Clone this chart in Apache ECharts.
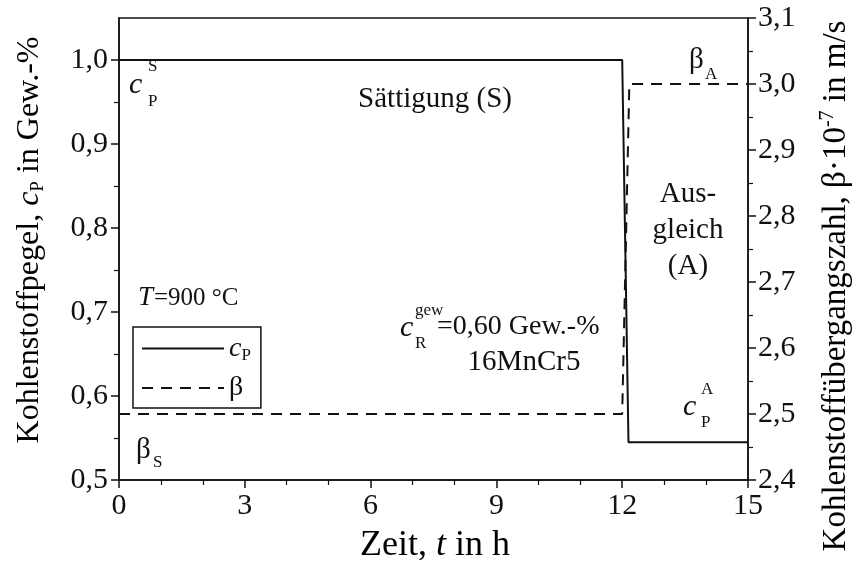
<!DOCTYPE html>
<html>
<head>
<meta charset="utf-8">
<script src="https://cdn.jsdelivr.net/npm/echarts@6/dist/echarts.min.js"></script>
<style>
  html, body { margin: 0; padding: 0; background: #fff; }
  #chart { width: 859px; height: 573px; }
</style>
</head>
<body>
<div id="chart"></div>
<script>
// Carbon potential c_P (left axis) and carbon transfer coefficient beta (right axis) over time
const cpTime = [0, 12.0, 12.15, 15];
const cpValue = [1.0, 1.0, 0.545, 0.545];
const betaTime = [0, 12.0, 12.17, 15];
const betaValue = [2.5, 2.5, 3.0, 3.0];

// axis ranges and tick values
const timeRange = [0, 15];
const cpRange = [0.5, 1.05];
const betaRange = [2.4, 3.1];
const cpMajorTicks = [0.5, 0.6, 0.7, 0.8, 0.9, 1.0];
const cpMinorTicks = [0.55, 0.65, 0.75, 0.85, 0.95];

const FONT = '"Liberation Serif", "Times New Roman", serif';
const INK = '#111';
const comma = v => (Math.round(v * 10) / 10).toFixed(1).replace('.', ',');

function rich(size) {
  const b = { fontFamily: FONT, color: INK };
  const s = Math.round(size * 0.6);
  const lh = Math.round(size * 1.2);
  return {
    r: { ...b, fontSize: size, lineHeight: lh },
    i: { ...b, fontSize: size, lineHeight: lh, fontStyle: 'italic' },
    sub: { ...b, fontSize: s, lineHeight: s + 2, padding: [Math.round(size * 0.5), 0, 0, 0] },
    sup: { ...b, fontSize: s, lineHeight: s + 2, padding: [0, 0, Math.round(size * 0.5), 0] }
  };
}

const chart = echarts.init(document.getElementById('chart'), null, { renderer: 'canvas' });

function txt(x, y, text, size, opts) {
  opts = opts || {};
  return {
    type: 'text', x: x, y: y, silent: true,
    style: {
      text: text, fontFamily: FONT, fontSize: size, fill: INK,
      fontStyle: opts.italic ? 'italic' : 'normal',
      align: opts.align || 'left', verticalAlign: 'middle'
    }
  };
}

function richTxt(x, y, text, size, rotation) {
  return {
    type: 'text', x: x, y: y, rotation: rotation || 0, silent: true,
    style: { text: text, rich: rich(size), align: 'center', verticalAlign: 'middle' }
  };
}

const axisLine = { show: true, lineStyle: { color: INK, width: 1.5 } };
const TICK = 30;

const option = {
  backgroundColor: '#fff',
  animation: false,
  grid: {
    left: 119, right: 111, top: 18, bottom: 93,
    outerBoundsMode: 'none', containLabel: false,
    show: true, borderColor: INK, borderWidth: 1.5, backgroundColor: 'transparent'
  },
  legend: {
    left: 133, top: 327, orient: 'vertical',
    itemWidth: 82, itemHeight: 14, itemGap: 10,
    padding: [6, 10, 6, 8],
    borderColor: INK, borderWidth: 1.5,
    itemStyle: { opacity: 0 },
    data: ['cP', 'beta'],
    formatter: name => name === 'cP' ? '{i|c}{sub|P}' : '{r|β}',
    textStyle: { rich: rich(28) }
  },
  xAxis: {
    type: 'value', min: timeRange[0], max: timeRange[1], interval: 3,
    axisLine: axisLine,
    axisTick: { show: true, length: 8, lineStyle: { color: INK, width: 1.5 } },
    minorTick: { show: true, splitNumber: 3, length: 5, lineStyle: { color: INK, width: 1.2 } },
    splitLine: { show: false },
    axisLabel: { fontFamily: FONT, fontSize: TICK, color: INK, margin: 11 }
  },
  yAxis: [
    {
      type: 'value', min: cpRange[0], max: cpRange[1], position: 'left',
      axisLine: axisLine,
      axisTick: { show: true, customValues: cpMajorTicks, length: 8, lineStyle: { color: INK, width: 1.5 } },
      axisLabel: { customValues: cpMajorTicks, formatter: comma, fontFamily: FONT, fontSize: TICK, color: INK, margin: 11 },
      splitLine: { show: false }
    },
    {
      type: 'value', min: betaRange[0], max: betaRange[1], interval: 0.1, position: 'right',
      axisLine: axisLine,
      axisTick: { show: true, length: 8, lineStyle: { color: INK, width: 1.5 } },
      minorTick: { show: true, splitNumber: 2, length: 5, lineStyle: { color: INK, width: 1.2 } },
      axisLabel: { formatter: comma, fontFamily: FONT, fontSize: TICK, color: INK, margin: 10 },
      splitLine: { show: false }
    },
    {
      // short minor ticks of the left axis
      type: 'value', min: cpRange[0], max: cpRange[1], position: 'left',
      axisLine: { show: false },
      axisTick: { show: true, customValues: cpMinorTicks, length: 5, lineStyle: { color: INK, width: 1.2 } },
      axisLabel: { show: false },
      splitLine: { show: false }
    }
  ],
  series: [
    {
      name: 'cP', type: 'line', yAxisIndex: 0, symbol: 'none',
      itemStyle: { color: INK },
      lineStyle: { color: INK, width: 2 },
      data: cpTime.map((t, k) => [t, cpValue[k]])
    },
    {
      name: 'beta', type: 'line', yAxisIndex: 1, symbol: 'none',
      itemStyle: { color: INK },
      lineStyle: { color: INK, width: 2, type: [11, 8] },
      data: betaTime.map((t, k) => [t, betaValue[k]])
    }
  ],
  graphic: [
    // axis titles
    richTxt(435, 546, '{r|Zeit, }{i|t}{r| in h}', 36),
    richTxt(30, 240, '{r|Kohlenstoffpegel, }{i|c}{sub|P}{r| in Gew.-%}', 32, Math.PI / 2),
    richTxt(836, 286, '{r|Kohlenstoffübergangszahl, β·10}{sup|-7}{r| in m/s}', 33, Math.PI / 2),
    // c_P^S
    txt(129, 85, 'c', 30, { italic: true }),
    txt(148, 67, 'S', 17),
    txt(148, 102, 'P', 17),
    txt(435, 99, 'Sättigung (S)', 29, { align: 'center' }),
    // beta_A
    txt(689, 60, 'β', 29),
    txt(705, 75, 'A', 17),
    txt(688, 194, 'Aus-', 29, { align: 'center' }),
    txt(688, 230, 'gleich', 29, { align: 'center' }),
    txt(688, 266, '(A)', 29, { align: 'center' }),
    // c_P^A
    txt(683, 407, 'c', 30, { italic: true }),
    txt(701, 390, 'A', 17),
    txt(701, 423, 'P', 17),
    // beta_S
    txt(136, 450, 'β', 29),
    txt(153, 463, 'S', 17),
    // T = 900 °C
    txt(138, 298, 'T', 27, { italic: true }),
    txt(154, 298, '=900 °C', 25),
    // c_R^gew = 0,60 Gew.-%
    txt(400, 328, 'c', 30, { italic: true }),
    txt(415, 311, 'gew', 17),
    txt(415, 344, 'R', 17),
    txt(437, 327, '=0,60 Gew.-%', 28),
    txt(524, 362, '16MnCr5', 29, { align: 'center' })
  ]
};

chart.setOption(option);
</script>
</body>
</html>
